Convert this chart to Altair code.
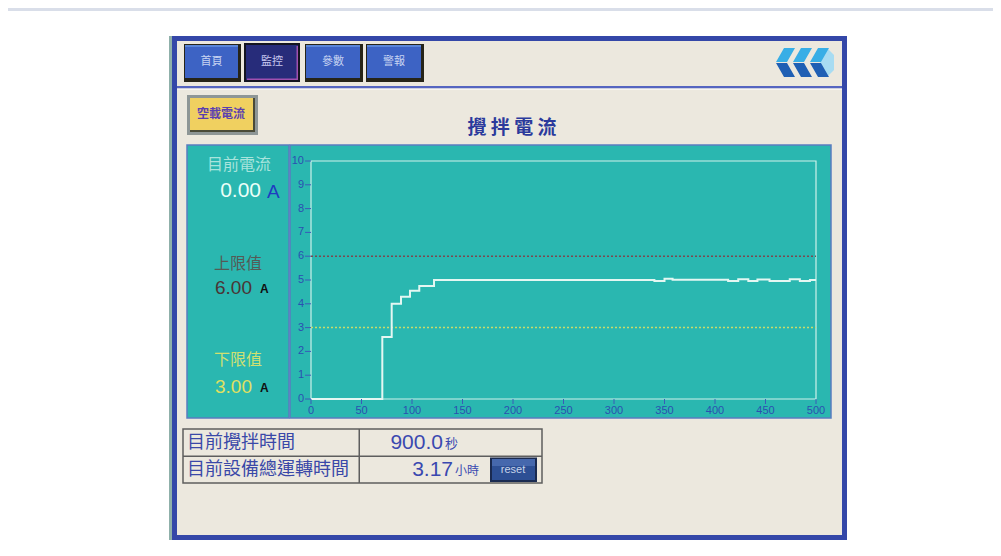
import altair as alt
import pandas as pd

# ---------------- data ----------------
time_s = [0, 70.6, 79.9, 89.1, 98.0, 107.2, 121.8, 340, 350, 358, 413, 423,
          433, 442, 454, 474, 484, 494, 500]
current_a = [0, 2.6, 4.0, 4.3, 4.55, 4.75, 5.0, 4.96, 5.05, 5.01, 4.96, 5.03,
             4.96, 5.02, 4.96, 5.03, 4.96, 5.0, 5.0]
x_ticks = [0, 50, 100, 150, 200, 250, 300, 350, 400, 450, 500]
y_ticks = [0, 1, 2, 3, 4, 5, 6, 7, 8, 9, 10]
upper_limit = 6.00
lower_limit = 3.00
current_now = 0.00
stir_time_s = 900.0
run_hours = 3.17
nav_labels = ["首頁", "監控", "參數", "警報"]
title_text = "攪拌電流"

CJK = "Noto Sans CJK TC"
LAT = "Liberation Sans"
O = 8  # page margin

ONE = pd.DataFrame({"k": [0]})


def box(x1, y1, x2, y2, fill, **kw):
    return alt.Chart(ONE).mark_rect(fill=fill, **kw).encode(
        x=alt.value(x1 - O), x2=alt.value(x2 - O),
        y=alt.value(y1 - O), y2=alt.value(y2 - O))


def label(txt, x, y, size, color, align="center", font=CJK, **kw):
    return alt.Chart(ONE).mark_text(text=txt, align=align, baseline="middle",
                                    fontSize=size, color=color, font=font, **kw).encode(
        x=alt.value(x - O), y=alt.value(y - O))


def shape(path, cx, cy, side, color):
    return alt.Chart(ONE).mark_point(shape=path, filled=True, fill=color,
                                     opacity=1, strokeWidth=0, size=side * side).encode(
        x=alt.value(cx - O), y=alt.value(cy - O))


TEAL = "#2ab7b0"
BEIGE = "#ece8de"
layers = []

# page chrome
layers.append(box(8, 8, 993, 11, "#d9dee9"))
layers.append(box(169, 36, 172, 540, "#8fb0aa"))
layers.append(box(172, 36, 847, 540, "#3447a8"))
layers.append(box(177, 41, 842, 535, BEIGE))
layers.append(box(177, 86, 842, 88.5, "#5565c0"))
layers.append(box(177, 88.5, 842, 90, "#f7f5ef"))

# navigation buttons
btns = [(185, 45, 238, 78), (246, 45, 298, 80), (306, 45, 360, 78), (367, 45, 421, 78)]
for i, (x1, y1, x2, y2) in enumerate(btns):
    if i == 1:
        layers.append(box(x1 - 2, y1 - 2, x2 + 2, y2 + 2, "#141420"))
        layers.append(box(x1, y1, x2, y2, "#272c7a"))
        layers.append(box(x2 - 1.5, y1 + 1, x2, y2, "#a050b0"))
        layers.append(box(x1 + 1, y2 - 1.5, x2, y2, "#a050b0"))
        layers.append(label(nav_labels[i], (x1 + x2) / 2, 62, 11, "#c8c8f0"))
    else:
        layers.append(box(x1 - 1, y1 - 1, x2 + 3, y2 + 4, "#262418"))
        layers.append(box(x1, y1, x2, y2, "#3d63c4"))
        layers.append(box(x1, y1, x2, y1 + 2, "#5a86d8"))
        layers.append(label(nav_labels[i], (x1 + x2) / 2, 62, 11, "#c8d4f2"))

# yellow button
layers.append(box(187, 95, 258, 135, "#8e9696"))
layers.append(box(190, 98, 255, 132, "#4a4a38"))
layers.append(box(190, 98, 253, 130, "#f0d060"))
layers.append(label("空載電流", 221, 114, 12, "#5b3fb0", fontWeight="bold"))

# logo (three chevrons)
cx, cy, s = 804.0, 62.5, 62.0
def P(px, py):
    return f"{(px - cx) / (s / 2):.3f} {(py - cy) / (s / 2):.3f}"
top_path, bot_path = "", ""
for k in range(3):
    a = 775 + 17 * k
    top_path += f"M {P(a+9,48)} L {P(a+20,48)} L {P(a+12,62)} L {P(a+1,62)} Z "
    bot_path += f"M {P(a+1,63)} L {P(a+12,63)} L {P(a+20,77)} L {P(a+9,77)} Z "
cap_path = f"M {P(827,48)} L {P(834,55)} L {P(834,70)} L {P(827,77)} L {P(820,62.5)} Z"
layers.append(shape(cap_path, cx, cy, s, "#a8dcf2"))
layers.append(shape(top_path, cx, cy, s, "#38aee6"))
layers.append(shape(bot_path, cx, cy, s, "#1f5fb4"))

# title
layers.append(label(" ".join(title_text), 512, 128, 19, "#2b3a9c", fontWeight="bold"))

# teal panels
layers.append(box(187, 145, 289, 418, TEAL, stroke="#5a7cc0", strokeWidth=1.5))
layers.append(box(290, 145, 831, 418, TEAL, stroke="#5a7cc0", strokeWidth=1.5))

# left readouts
layers.append(label("目前電流", 239, 165, 16, "#a8e4dc"))
layers.append(label(f"{current_now:.2f}", 261, 191, 21, "#eafff8", align="right", font=LAT))
layers.append(label("A", 267, 192, 19, "#1f3cc0", align="left", font=LAT))
layers.append(label("上限值", 238, 264, 16, "#555a55"))
layers.append(label(f"{upper_limit:.2f}", 252, 288, 19, "#4a3535", align="right", font=LAT))
layers.append(label("A", 260, 289, 12, "#101010", align="left", font=LAT, fontWeight="bold"))
layers.append(label("下限值", 238, 360, 16, "#d0e070"))
layers.append(label(f"{lower_limit:.2f}", 252, 387, 19, "#e0e060", align="right", font=LAT))
layers.append(label("A", 260, 388, 12, "#101010", align="left", font=LAT, fontWeight="bold"))

# ---------------- trend plot through scales ----------------
xs = alt.Scale(domain=[0, 500], range=[311 - O, 816 - O], nice=False, zero=False)
ys = alt.Scale(domain=[0, 10], range=[399 - O, 161 - O], nice=False, zero=False)

frame = pd.DataFrame({"x0": [x_ticks[0]], "x1": [x_ticks[-1]],
                      "y0": [y_ticks[0]], "y1": [y_ticks[-1]]})
layers.append(alt.Chart(frame).mark_rect(fillOpacity=0, stroke="#cdf2ea", strokeWidth=1.2).encode(
    x=alt.X("x0:Q", scale=xs, axis=None), x2="x1:Q",
    y=alt.Y("y0:Q", scale=ys, axis=None), y2="y1:Q"))

lims = pd.DataFrame({"lim": [upper_limit, lower_limit], "x0": [0, 0], "x1": [500, 500],
                     "kind": ["upper", "lower"]})
for kind, col in [("upper", "#7a4a50"), ("lower", "#c8dc6a")]:
    layers.append(alt.Chart(lims[lims.kind == kind]).mark_rule(
        color=col, strokeWidth=1.5, strokeDash=[2, 2]).encode(
        x=alt.X("x0:Q", scale=xs, axis=None), x2="x1:Q",
        y=alt.Y("lim:Q", scale=ys, axis=None)))

series = pd.DataFrame({"time_s": time_s, "current_a": current_a})
layers.append(alt.Chart(series).mark_line(interpolate="step-after", color="#e4f7f2",
                                          strokeWidth=2).encode(
    x=alt.X("time_s:Q", scale=xs, axis=None),
    y=alt.Y("current_a:Q", scale=ys, axis=None)))

xt = pd.DataFrame({"t": x_ticks})
yt = pd.DataFrame({"v": y_ticks})
layers.append(alt.Chart(xt).mark_rule(color="#3a5ab8", strokeWidth=1).encode(
    x=alt.X("t:Q", scale=xs, axis=None), y=alt.value(399 - O), y2=alt.value(404 - O)))
layers.append(alt.Chart(xt).mark_text(fontSize=11, color="#2a50b0", font=LAT,
                                      baseline="middle").encode(
    x=alt.X("t:Q", scale=xs, axis=None), y=alt.value(411 - O), text="t:Q"))
layers.append(alt.Chart(yt).mark_rule(color="#3a5ab8", strokeWidth=1).encode(
    y=alt.Y("v:Q", scale=ys, axis=None), x=alt.value(305 - O), x2=alt.value(311 - O)))
layers.append(alt.Chart(yt).mark_text(fontSize=11, color="#2a50b0", font=LAT,
                                      align="right", baseline="middle").encode(
    y=alt.Y("v:Q", scale=ys, axis=None), x=alt.value(304 - O), text="v:Q"))

# ---------------- bottom table ----------------
GR = "#5e5e5e"
layers.append(box(183, 429, 542, 483, BEIGE, stroke=GR, strokeWidth=1.5))
layers.append(box(183, 455.5, 542, 457, GR))
layers.append(box(358.5, 429, 360, 483, GR))
layers.append(label("目前攪拌時間", 187, 443, 18, "#3a48a8", align="left"))
layers.append(label("目前設備總運轉時間", 187, 470, 18, "#3a48a8", align="left"))
layers.append(label(f"{stir_time_s:.1f}", 443, 443, 21, "#3a48b0", align="right", font=LAT))
layers.append(label("秒", 445, 444, 13, "#3a48b0", align="left"))
layers.append(label(f"{run_hours:.2f}", 453, 470, 21, "#3a48b0", align="right", font=LAT))
layers.append(label("小時", 455, 471, 12, "#3a48b0", align="left"))
layers.append(box(490, 457.5, 537, 482, "#1a2a50"))
layers.append(box(492, 459, 535, 480, "#2d4f94"))
layers.append(box(492, 459, 535, 466, "#4668ad"))
layers.append(label("reset", 513, 470, 11, "#c8d4ea", font=LAT))

chart = alt.layer(*layers).properties(
    width=985, height=540, padding=0,
    autosize=alt.AutoSizeParams(type="none"), background="white"
).configure_view(strokeWidth=0)

chart.save("out.html", embed_options={"renderer": "svg", "actions": False})
